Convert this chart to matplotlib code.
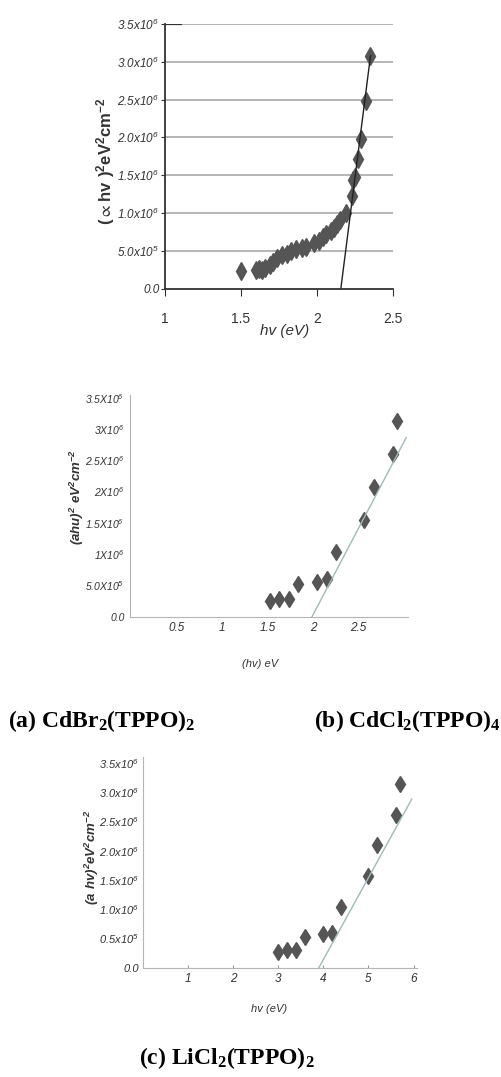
import numpy as np
import matplotlib
matplotlib.use("Agg")
import matplotlib.pyplot as plt
from matplotlib import font_manager

# data, y in units of 1e6 eV^2 cm^-2
hv_a = [1.50, 1.60, 1.62, 1.64, 1.66, 1.69, 1.71, 1.74, 1.77, 1.80, 1.83, 1.86, 1.90, 1.93,
        1.98, 2.01, 2.04, 2.06, 2.09, 2.11, 2.13, 2.15, 2.19, 2.23, 2.24, 2.25, 2.27, 2.29,
        2.32, 2.35]
ahv_a = [0.23, 0.24, 0.26, 0.24, 0.27, 0.31, 0.35, 0.40, 0.44, 0.46, 0.49, 0.52, 0.54, 0.55,
         0.60, 0.63, 0.68, 0.72, 0.76, 0.80, 0.85, 0.90, 1.00, 1.22, 1.43, 1.48, 1.72, 1.98,
         2.48, 3.08]
fit_a_x = [2.157, 2.352]
fit_a_y = [0.0, 3.08]

hv_b = [1.53, 1.63, 1.74, 1.84, 2.05, 2.15, 2.26, 2.56, 2.67, 2.88, 2.93]
ahv_b = [0.25, 0.29, 0.29, 0.52, 0.56, 0.60, 1.03, 1.55, 2.08, 2.60, 3.12]
fit_b_x = [1.99, 3.03]
fit_b_y = [0.0, 2.86]

hv_c = [3.0, 3.2, 3.4, 3.6, 4.0, 4.2, 4.4, 5.0, 5.2, 5.6, 5.7]
ahv_c = [0.26, 0.30, 0.30, 0.53, 0.57, 0.60, 1.04, 1.57, 2.09, 2.61, 3.14]
fit_c_x = [3.90, 5.96]
fit_c_y = [0.0, 2.88]

yt = [0, 0.5, 1.0, 1.5, 2.0, 2.5, 3.0, 3.5]
ylab_a = ['0.0', '$5.0x10^5$', '$1.0x10^6$', '$1.5x10^6$', '$2.0x10^6$',
          '$2.5x10^6$', '$3.0x10^6$', '$3.5x10^6$']
ylab_b = ['0.0', '$5.0X10^5$', '$1X10^6$', '$1.5X10^6$', '$2X10^6$',
          '$2.5X10^6$', '$3X10^6$', '$3.5X10^6$']
ylab_c = ['0.0', '$0.5x10^5$', '$1.0x10^6$', '$1.5x10^6$', '$2.0x10^6$',
          '$2.5x10^6$', '$3.0x10^6$', '$3.5x10^6$']
xt_a = [1, 1.5, 2, 2.5]
xlab_a = ['1', '1.5', '2', '2.5']
xt_b = [0.5, 1, 1.5, 2, 2.5]
xlab_b = ['0.5', '1', '1.5', '2', '2.5']
xt_c = [1, 2, 3, 4, 5, 6]
xlab_c = ['1', '2', '3', '4', '5', '6']

names = set(f.name for f in font_manager.fontManager.ttflist)
narrow = 'Liberation Sans Narrow' if 'Liberation Sans Narrow' in names else 'Liberation Sans'

plt.rcParams['mathtext.default'] = 'regular'
plt.rcParams['font.family'] = [narrow, 'DejaVu Sans']

fig = plt.figure(figsize=(5.02, 10.77), dpi=100)
W, H = 502., 1077.

def axes_px(x0, x1, ytop, ybot):
    return fig.add_axes([x0 / W, 1 - ybot / H, (x1 - x0) / W, (ybot - ytop) / H])

mk = dict(marker='d', color='#555555', linestyle='none', clip_on=False)

# ---- panel (a) ----
ax1 = axes_px(165, 393, 24, 288.5)
ax1.plot(hv_a, ahv_a, markersize=9, **mk)
ax1.plot(fit_a_x, fit_a_y, color='#222222', lw=1.0)
for v in yt[1:]:
    ax1.axhline(v, color='#b0b0b0', lw=1.3, zorder=0)
ax1.axhline(3.5, xmax=0.07, color='#333333', lw=1.6)
ax1.set_xlim(1, 2.5)
ax1.set_ylim(0, 3.5)
ax1.set_yticks(yt)
ax1.set_yticklabels(ylab_a, fontsize=8.5, style='italic', color='#333333')
ax1.set_xticks(xt_a)
ax1.set_xticklabels(xlab_a, fontsize=10, color='#333333')
ax1.tick_params(axis='x', direction='out', length=5, pad=12, color='#333333')
ax1.tick_params(axis='y', direction='out', length=3, pad=1, color='#333333')
for s in ['top', 'right']:
    ax1.spines[s].set_visible(False)
for s in ['left', 'bottom']:
    ax1.spines[s].set_color('#333333')
    ax1.spines[s].set_linewidth(1.3)
ax1.set_ylabel(r'$(\propto hv\ )^2eV^2cm^{-2}$', fontsize=12, fontweight='bold',
               color='#333333', family=['Liberation Sans', 'DejaVu Sans'])
ax1.yaxis.set_label_coords(-0.21, 0.48)
ax1.set_xlabel('hv (eV)', fontsize=11, style='italic', color='#333333')
ax1.xaxis.set_label_coords(0.526, -0.135)

# ---- panel (b) ----
ax2 = axes_px(130, 408, 394.5, 616.7)
ax2.plot(hv_b, ahv_b, markersize=8, **mk)
ax2.plot(fit_b_x, fit_b_y, color='#9fbaba', lw=1.0)
ax2.set_xlim(-0.02, 3.05)
ax2.set_ylim(0, 3.55)
ax2.set_yticks(yt)
ax2.set_yticklabels(ylab_b, fontsize=7.5, style='italic', color='#333333')
ax2.set_xticks(xt_b)
ax2.set_xticklabels(xlab_b, fontsize=8.5, style='italic', color='#333333')
ax2.tick_params(length=0, pad=4)
for s in ['top', 'right']:
    ax2.spines[s].set_visible(False)
for s in ['left', 'bottom']:
    ax2.spines[s].set_color('#b5b5b5')
ax2.set_ylabel(r'$( ahu)^2\ eV^2cm^{-2}$', fontsize=9.5, fontweight='bold',
               style='italic', color='#333333')
ax2.yaxis.set_label_coords(-0.16, 0.54)
ax2.set_xlabel('(hv) eV', fontsize=8, style='italic', color='#333333')
ax2.xaxis.set_label_coords(0.468, -0.19)

# ---- panel (c) ----
ax3 = axes_px(143, 416.7, 757, 967.7)
ax3.plot(hv_c, ahv_c, markersize=8, **mk)
ax3.plot(fit_c_x, fit_c_y, color='#9fbaba', lw=1.0)
ax3.set_xlim(0, 6.07)
ax3.set_ylim(0, 3.6)
ax3.set_yticks(yt)
ax3.set_yticklabels(ylab_c, fontsize=8, style='italic', color='#333333')
ax3.set_xticks(xt_c)
ax3.set_xticklabels(xlab_c, fontsize=8.5, style='italic', color='#333333')
ax3.tick_params(axis='x', direction='in', length=2, pad=4, color='#999999')
ax3.tick_params(axis='y', length=0, pad=3)
for s in ['top', 'right']:
    ax3.spines[s].set_visible(False)
for s in ['left', 'bottom']:
    ax3.spines[s].set_color('#b5b5b5')
ax3.set_ylabel(r'$(a\ hv)^2eV^2cm^{-2}$', fontsize=9.5, fontweight='bold',
               style='italic', color='#333333')
ax3.yaxis.set_label_coords(-0.155, 0.525)
ax3.set_xlabel('hv (eV)', fontsize=8, style='italic', color='#333333')
ax3.xaxis.set_label_coords(0.46, -0.17)

# ---- captions ----
cap = dict(fontsize=17, fontweight='bold', family=['Liberation Serif', 'DejaVu Serif'],
           va='center')
fig.text(8 / W, 1 - 721 / H, '(a) CdBr$_2$(TPPO)$_2$', ha='left', **cap)
fig.text(501 / W, 1 - 721 / H, '(b) CdCl$_2$(TPPO)$_4$', ha='right', **cap)
fig.text(227 / W, 1 - 1058 / H, '(c) LiCl$_2$(TPPO)$_2$', ha='center', **cap)

fig.savefig('out.png', dpi=100)
